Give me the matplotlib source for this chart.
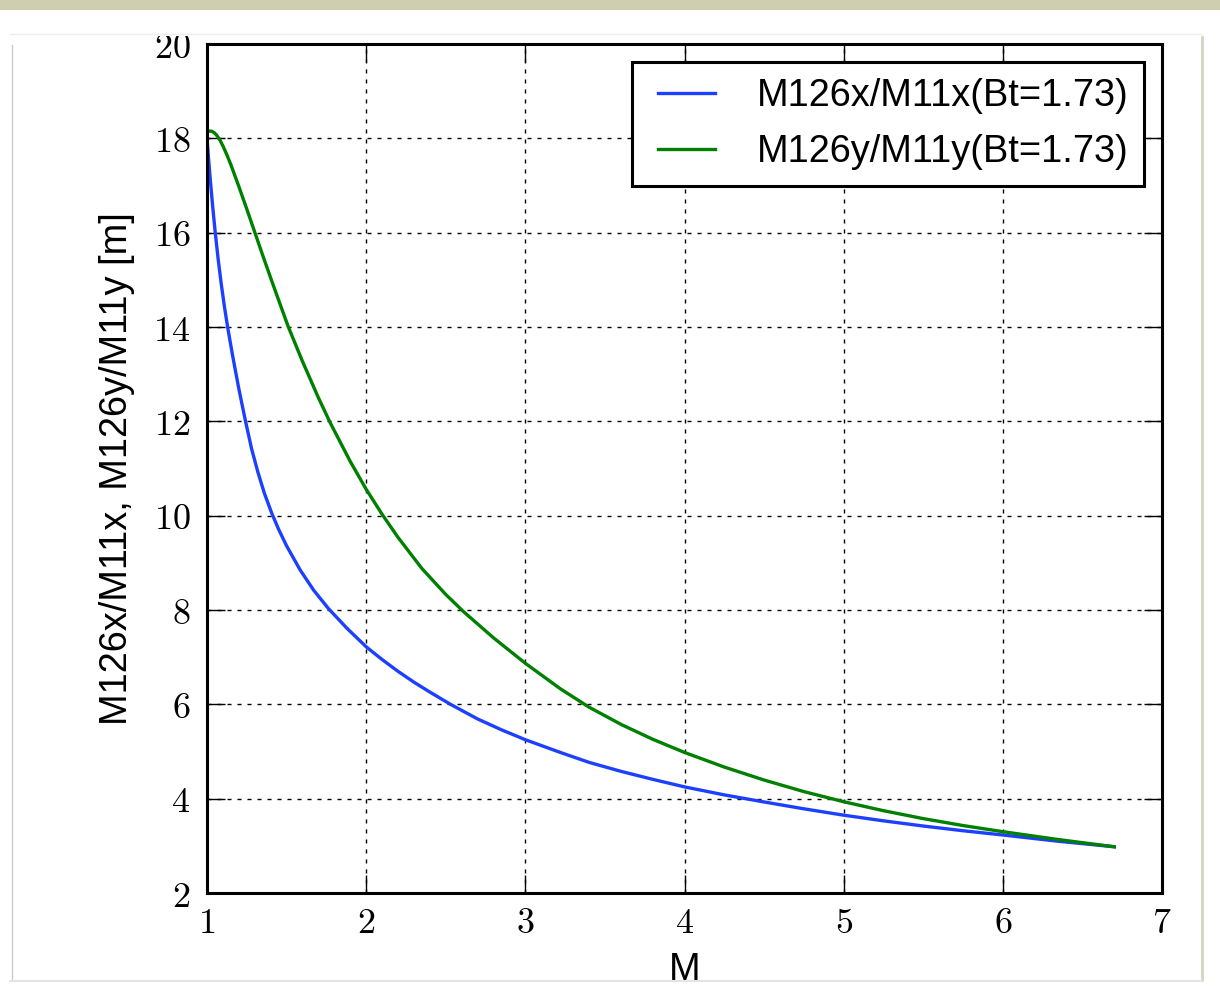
import numpy as np
import matplotlib
matplotlib.use('Agg')
import matplotlib.pyplot as plt
from matplotlib.patches import Rectangle
from matplotlib.lines import Line2D
from matplotlib.ticker import FuncFormatter
from matplotlib.legend_handler import HandlerLine2D

plt.rcParams['mathtext.fontset'] = 'cm'
plt.rcParams['font.family'] = ['Liberation Sans', 'DejaVu Sans']

# values
m_blue = [1.0, 1.01, 1.02, 1.035, 1.05, 1.07, 1.09, 1.11, 1.13, 1.16, 1.2, 1.239,
          1.28, 1.32, 1.36, 1.407, 1.45, 1.5, 1.585, 1.67, 1.763, 1.88, 2.0, 2.1,
          2.2, 2.3, 2.4, 2.53, 2.7, 2.85, 3.0, 3.22, 3.4, 3.6, 3.8, 4.0, 4.25, 4.5,
          4.75, 5.0, 5.25, 5.5, 5.75, 6.0, 6.34, 6.7]
ratio_x = [18.0, 17.56, 17.15, 16.58, 16.06, 15.44, 14.90, 14.42, 13.99, 13.41, 12.69, 12.05,
           11.42, 10.92, 10.48, 10.05, 9.71, 9.36, 8.85, 8.42, 8.03, 7.61, 7.22, 6.95,
           6.70, 6.47, 6.26, 6.0, 5.69, 5.46, 5.25, 4.98, 4.77, 4.58, 4.41, 4.25, 4.08, 3.93,
           3.785, 3.65, 3.53, 3.42, 3.32, 3.23, 3.10, 2.98]

m_green = [1.0, 1.015, 1.03, 1.045, 1.06, 1.08, 1.1, 1.125, 1.15, 1.2, 1.25, 1.3,
           1.35, 1.4, 1.45, 1.51, 1.6, 1.7, 1.774, 1.9, 2.0, 2.1, 2.2, 2.35, 2.5,
           2.61, 2.8, 3.0, 3.22, 3.4, 3.604, 3.8, 4.0, 4.25, 4.5, 4.75, 5.0, 5.25,
           5.5, 5.75, 6.0, 6.34, 6.7]
ratio_y = [18.13, 18.155, 18.15, 18.12, 18.07, 17.97, 17.84, 17.65, 17.44, 16.98, 16.5, 16.01,
           15.52, 15.04, 14.57, 14.01, 13.27, 12.5, 11.97, 11.15, 10.56, 10.03, 9.54, 8.88, 8.33,
           7.97, 7.41, 6.87, 6.33, 5.94, 5.57, 5.26, 4.98, 4.67, 4.395, 4.15, 3.935, 3.745,
           3.577, 3.43, 3.30, 3.137, 2.98]

labels = ['M126x/M11x(Bt=1.73)', 'M126y/M11y(Bt=1.73)']
x_ticks = [1, 2, 3, 4, 5, 6, 7]
y_ticks = [2, 4, 6, 8, 10, 12, 14, 16, 18, 20]

W, H = 1220, 996
fig = plt.figure(figsize=(W / 100, H / 100), dpi=100, facecolor='white')
ax = fig.add_axes([207 / W, 1 - 893 / H, 955 / W, 849 / H])

ax.plot(m_blue, ratio_x, color='#1c40ff', lw=2.4, label=labels[0])
ax.plot(m_green, ratio_y, color='#008000', lw=2.4, label=labels[1])

ax.set_xlim(1, 7)
ax.set_ylim(2, 20)
ax.set_xticks(x_ticks)
ax.set_yticks(y_ticks)
fmt = FuncFormatter(lambda v, p: r'$%d$' % v)
ax.xaxis.set_major_formatter(fmt)
ax.yaxis.set_major_formatter(fmt)
ax.tick_params(direction='in', length=13, width=1.0, labelsize=26,
               top=True, right=True)
ax.tick_params(axis='x', pad=9)
ax.tick_params(axis='y', pad=12)
for s in ax.spines.values():
    s.set_linewidth(2.2)

ax.grid(True, color='black', lw=1.0, linestyle=(0, (2.9, 4.3)))

ax.set_xlabel('M', fontsize=27.4)
ax.set_ylabel('M126x/M11x, M126y/M11y [m]', fontsize=27.4)
ax.xaxis.set_label_coords(0.5, -0.070)
ax.yaxis.set_label_coords(-0.075, 0.5)

leg = ax.legend(loc='upper right', fontsize=27.4, handlelength=1.77, handletextpad=1.08,
                borderpad=0.42, labelspacing=0.54, borderaxespad=0.47,
                fancybox=False, framealpha=1,
                handler_map={Line2D: HandlerLine2D(xpad=0.27)})
leg.get_frame().set_edgecolor('black')
leg.get_frame().set_linewidth(2.2)

# page decorations around the plot panel
fig.add_artist(Rectangle((0, 1 - 36 / H), 1, 36 / H, transform=fig.transFigure,
                         facecolor='white', edgecolor='none', zorder=10))
fig.add_artist(Rectangle((0, 1 - 10 / H), 1, 10 / H, transform=fig.transFigure,
                         facecolor='#cfcfb0', edgecolor='none', zorder=11))
fig.add_artist(Line2D([10 / W, 1202 / W], [1 - 34 / H, 1 - 34 / H], transform=fig.transFigure,
                      color='#eeeeee', lw=1.0, zorder=11))
fig.add_artist(Line2D([12 / W, 12 / W], [1 - 45 / H, 1 - 980 / H], transform=fig.transFigure,
                      color='#cccccc', lw=1.0, zorder=11))
fig.add_artist(Line2D([1202 / W, 1202 / W], [1 - 37 / H, 1 - 980 / H], transform=fig.transFigure,
                      color='#d4d4c0', lw=2.0, zorder=11))
fig.add_artist(Line2D([10 / W, 1202 / W], [1 - 981 / H, 1 - 981 / H], transform=fig.transFigure,
                      color='#e4e4e4', lw=1.5, zorder=11))

fig.savefig('out.png', dpi=100, facecolor=fig.get_facecolor())
